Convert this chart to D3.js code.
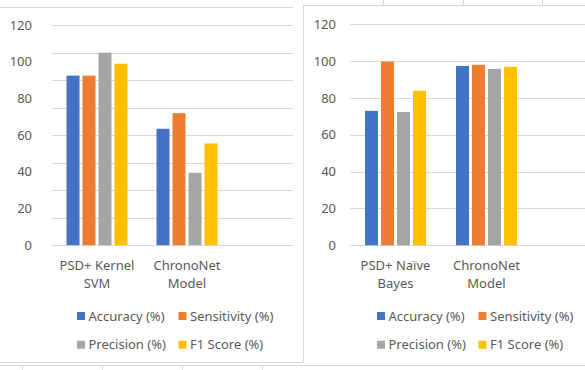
<!DOCTYPE html>
<html>
<head>
<meta charset="utf-8">
<script src="https://cdn.jsdelivr.net/npm/d3@7"></script>
<style>
  body { margin: 0; background: #fff; }
  svg { display: block; font-family: "Noto Sans", sans-serif; }
</style>
</head>
<body>
<script>
// series shared by both charts
var series = ["Accuracy (%)", "Sensitivity (%)", "Precision (%)", "F1 Score (%)"];
var colors = ["#4472C4", "#ED7D31", "#A5A5A5", "#FFC000"];

// left chart
var leftCategories = [["PSD+ Kernel", "SVM"], ["ChronoNet", "Model"]];
var leftValues = [
    [92.5, 92.5, 105, 99],
    [63.5, 72, 39.5, 55.5]
];
var leftGridTicks = [0, 15, 30, 45, 60, 75, 90, 105, 120];

// right chart
var rightCategories = [["PSD+ Naïve", "Bayes"], ["ChronoNet", "Model"]];
var rightValues = [
    [73, 99.8, 72.4, 83.9],
    [97.4, 98, 95.8, 96.9]
];
var rightGridTicks = [0, 20, 40, 60, 80, 100, 120];

var yLabels = [0, 20, 40, 60, 80, 100, 120];

var w = 585;
var h = 370;
var textColor = "#595959";
var gridColor = "#D9D9D9";

var svg = d3.select("body")
    .append("svg")
    .attr("width", w)
    .attr("height", h);

// spreadsheet cell lines behind / around the charts
var cells = svg.append("g")
    .attr("stroke", gridColor)
    .attr("stroke-width", 1);
cells.append("line").attr("x1", 0).attr("x2", 293).attr("y1", 7.5).attr("y2", 7.5);
cells.append("line").attr("x1", 0).attr("x2", 303).attr("y1", 362.5).attr("y2", 362.5);
cells.append("line").attr("x1", 0).attr("x2", w).attr("y1", 365.5).attr("y2", 365.5);
[22, 102, 182, 262].forEach(function (x) {
    cells.append("line").attr("x1", x + 0.5).attr("x2", x + 0.5).attr("y1", 366).attr("y2", h);
});
[383, 463, 542].forEach(function (x) {
    cells.append("line").attr("x1", x + 0.5).attr("x2", x + 0.5).attr("y1", 0).attr("y2", 5);
});
// right chart frame
cells.append("line").attr("x1", 303.5).attr("x2", 303.5).attr("y1", 5).attr("y2", 362.5);
cells.append("line").attr("x1", 303.5).attr("x2", w).attr("y1", 5.5).attr("y2", 5.5);

function drawChart(opts) {
    var g = svg.append("g");

    var yScale = d3.scaleLinear()
        .domain([0, 120])
        .range([opts.baseY, opts.topY]);

    var x0 = d3.scaleBand()
        .domain(d3.range(opts.categories.length))
        .range(opts.xRange);

    var half = 32;
    var x1 = d3.scaleBand()
        .domain(d3.range(series.length))
        .range([x0.bandwidth() / 2 - half, x0.bandwidth() / 2 + half])
        .paddingInner(0.1875)
        .paddingOuter(0.09375);

    // gridlines
    g.append("g")
        .selectAll("line")
        .data(opts.gridTicks)
        .enter()
        .append("line")
        .attr("x1", opts.gridX[0])
        .attr("x2", opts.gridX[1])
        .attr("y1", d => Math.round(yScale(d)) + 0.5)
        .attr("y2", d => Math.round(yScale(d)) + 0.5)
        .attr("stroke", gridColor)
        .attr("stroke-width", 1);

    // y labels
    g.append("g")
        .selectAll("text")
        .data(yLabels)
        .enter()
        .append("text")
        .text(d => d)
        .attr("x", opts.labelX)
        .attr("y", d => yScale(d))
        .attr("dy", "0.35em")
        .attr("text-anchor", "end")
        .attr("font-size", "13px")
        .attr("fill", textColor);

    // bars
    var groups = g.append("g")
        .selectAll("g")
        .data(opts.values)
        .enter()
        .append("g")
        .attr("transform", (d, i) => "translate(" + x0(i) + ",0)");

    groups.selectAll("rect")
        .data(d => d)
        .enter()
        .append("rect")
        .attr("x", (d, i) => x1(i))
        .attr("y", d => yScale(d))
        .attr("width", x1.bandwidth())
        .attr("height", d => yScale(0) - yScale(d))
        .attr("fill", (d, i) => colors[i]);

    // category labels (two lines)
    var cat = g.append("g")
        .selectAll("text")
        .data(opts.categories)
        .enter()
        .append("text")
        .attr("x", (d, i) => x0(i) + x0.bandwidth() / 2)
        .attr("y", 269.5)
        .attr("text-anchor", "middle")
        .attr("font-size", "13px")
        .attr("fill", textColor);

    cat.selectAll("tspan")
        .data(d => d)
        .enter()
        .append("tspan")
        .attr("x", function () { return d3.select(this.parentNode).attr("x"); })
        .attr("dy", (d, i) => i === 0 ? 0 : 18.5)
        .text(d => d);

    // legend: 2 x 2
    var legend = g.append("g")
        .selectAll("g")
        .data(series)
        .enter()
        .append("g")
        .attr("transform", function (d, i) {
            var col = i % 2;
            var row = Math.floor(i / 2);
            return "translate(" + (opts.legendX + col * 101.5) + "," + (312 + row * 28.7) + ")";
        });

    legend.append("rect")
        .attr("width", 8)
        .attr("height", 8)
        .attr("fill", (d, i) => colors[i]);

    legend.append("text")
        .text(d => d)
        .attr("x", 11.5)
        .attr("y", 4)
        .attr("dy", "0.35em")
        .attr("font-size", "13px")
        .attr("fill", textColor);
}

drawChart({
    categories: leftCategories,
    values: leftValues,
    gridTicks: leftGridTicks,
    baseY: 245.2,
    topY: 25.2,
    xRange: [52, 232],
    gridX: [52, 293],
    labelX: 32,
    legendX: 77
});

drawChart({
    categories: rightCategories,
    values: rightValues,
    gridTicks: rightGridTicks,
    baseY: 245.3,
    topY: 24.3,
    xRange: [350, 532],
    gridX: [350, w],
    labelX: 336,
    legendX: 377
});
</script>
</body>
</html>
